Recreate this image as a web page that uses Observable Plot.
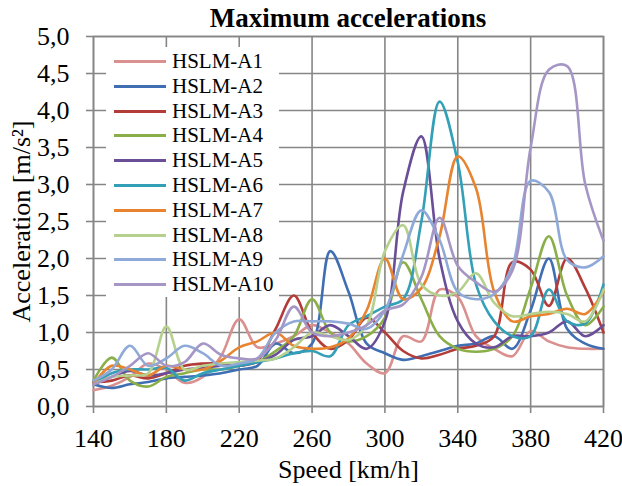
<!DOCTYPE html>
<html>
<head>
<meta charset="utf-8">
<script src="https://cdn.jsdelivr.net/npm/d3@7"></script>
<script src="https://cdn.jsdelivr.net/npm/@observablehq/plot@0.6"></script>
<style>
  html, body { margin: 0; padding: 0; background: #fff; }
  #wrap { position: relative; width: 622px; height: 486px; font-family: "Liberation Serif", serif; }
  #title { position: absolute; left: 93px; top: 2px; width: 510px; text-align: center; font-weight: bold; font-size: 27px; line-height: 32px; color: #000; z-index: 2; font-family: "Liberation Serif", serif; }
  #legend { position: absolute; left: 106px; top: 47px; width: 173px; height: 250px; background: #fff; z-index: 2; }
  .row { position: absolute; left: 0; height: 25px; width: 173px; }
  .sw { position: absolute; left: 8px; top: 11px; width: 52px; height: 3px; }
  .lb { position: absolute; left: 66px; top: 0; font-size: 21px; line-height: 25px; color: #000; white-space: nowrap; font-family: "Liberation Serif", serif !important; }
  svg { position: absolute; left: 0; top: 0; }
  svg text { font-family: "Liberation Serif", serif !important; }
</style>
</head>
<body>
<div id="wrap">
  <div id="title">Maximum accelerations</div>
  <div id="legend"></div>
</div>
<script>
const speeds = [140,150,160,170,180,190,200,210,220,230,240,250,260,270,280,290,300,310,320,330,340,350,360,370,380,390,400,410,420];
const seriesNames = ["HSLM-A1","HSLM-A2","HSLM-A3","HSLM-A4","HSLM-A5","HSLM-A6","HSLM-A7","HSLM-A8","HSLM-A9","HSLM-A10"];
const seriesColors = ["#D9908E","#3F6FB2","#B33C39","#8AAE48","#6A4E97","#33A0B8","#E8842F","#B6D08D","#8FAAD9","#A596C6"];
const A1  = [0.22,0.28,0.40,0.58,0.50,0.32,0.40,0.68,1.18,0.80,0.85,0.95,1.10,1.00,0.85,0.58,0.45,0.95,0.88,1.58,1.48,0.95,0.78,0.68,1.02,0.88,0.80,0.78,0.78];
const A2  = [0.30,0.25,0.30,0.33,0.38,0.40,0.42,0.45,0.50,0.55,0.85,0.72,0.85,2.10,1.55,0.85,0.72,0.63,0.68,0.75,0.82,0.85,0.95,0.78,1.30,2.00,1.05,0.85,0.78];
const A3  = [0.33,0.35,0.42,0.38,0.45,0.55,0.58,0.58,0.55,0.62,1.05,1.50,1.00,0.78,0.90,1.20,1.00,0.75,0.65,0.70,0.78,0.82,0.95,1.95,1.85,1.36,2.00,1.60,1.00];
const A4  = [0.35,0.66,0.35,0.27,0.40,0.45,0.50,0.50,0.55,0.60,0.75,0.95,1.45,1.00,0.88,0.95,1.20,1.95,1.45,0.95,0.78,0.74,0.78,0.95,1.60,2.30,1.50,1.10,1.35];
const A5  = [0.30,0.40,0.48,0.42,0.45,0.50,0.52,0.55,0.55,0.60,0.70,0.90,0.95,1.10,0.95,0.78,1.15,2.90,3.65,2.00,1.15,0.85,0.80,0.95,0.95,1.00,1.15,0.95,1.10];
const A6  = [0.30,0.45,0.50,0.50,0.52,0.35,0.45,0.50,0.55,0.60,0.65,0.72,0.75,0.68,1.10,1.22,1.35,1.45,2.50,4.12,3.30,1.65,1.15,0.95,0.95,1.58,1.15,1.12,1.65];
const A7  = [0.30,0.55,0.50,0.42,0.55,0.50,0.50,0.62,0.80,0.88,1.00,0.82,0.78,0.80,0.92,1.30,2.00,1.45,1.60,2.30,3.38,2.95,1.55,1.15,1.22,1.25,1.32,1.25,1.55];
const A8  = [0.30,0.40,0.42,0.45,1.08,0.50,0.55,0.58,0.60,0.62,0.65,0.80,1.00,0.95,0.90,1.10,2.10,2.45,1.65,1.50,1.55,1.80,1.40,1.22,1.25,1.28,1.25,1.15,1.58];
const A9  = [0.35,0.50,0.82,0.55,0.65,0.82,0.72,0.55,0.58,0.65,1.00,1.15,1.15,1.15,1.12,1.05,1.30,2.05,2.65,2.25,1.55,1.45,1.52,1.90,3.05,2.90,1.98,1.88,2.03];
const A10 = [0.30,0.40,0.55,0.72,0.55,0.60,0.85,0.70,0.65,0.65,0.90,1.35,1.00,0.95,1.00,1.10,1.30,1.38,1.75,2.55,1.90,1.68,1.55,1.84,3.50,4.55,4.60,3.00,2.24];
const xTicks = [140,180,220,260,300,340,380,420];
const yTicks = [0,0.5,1,1.5,2,2.5,3,3.5,4,4.5,5];

const allSeries = [A1,A2,A3,A4,A5,A6,A7,A8,A9,A10];
const data = [];
allSeries.forEach((vals, i) => {
  vals.forEach((v, j) => data.push({series: seriesNames[i], speed: speeds[j], acc: v}));
});

const fmt = d => d.toFixed(1).replace(".", ",");
const grid = "#868686";
const serif = "Liberation Serif";

const chart = Plot.plot({
  width: 622,
  height: 486,
  marginTop: 36,
  marginBottom: 80,
  marginLeft: 93,
  marginRight: 19,
  style: {fontFamily: serif, color: "#000", background: "transparent"},
  x: {domain: [140, 420]},
  y: {domain: [0, 5]},
  color: {domain: seriesNames, range: seriesColors},
  marks: [
    Plot.gridX(xTicks, {stroke: grid, strokeOpacity: 1, strokeWidth: 1.6}),
    Plot.gridY(yTicks, {stroke: grid, strokeOpacity: 1, strokeWidth: 1.6}),
    Plot.frame({stroke: grid, strokeWidth: 1.6}),
    Plot.axisX({ticks: xTicks, tickSize: 7, tickPadding: 15, fontSize: 26, fontFamily: serif, stroke: grid, strokeWidth: 1.6,
      tickFormat: d => String(d), label: "Speed [km/h]", labelAnchor: "center", labelArrow: "none", labelOffset: 71}),
    Plot.axisY({ticks: yTicks, tickSize: 7, tickPadding: 17, fontSize: 26, fontFamily: serif, stroke: grid, strokeWidth: 1.6,
      tickFormat: fmt, label: "Acceleration [m/s²]", labelAnchor: "center", labelArrow: "none", labelOffset: 82}),
    Plot.line(data, {x: "speed", y: "acc", z: "series", stroke: "series", strokeWidth: 2.6, curve: "catmull-rom"})
  ]
});

const wrap = document.getElementById("wrap");
wrap.insertBefore(chart, wrap.firstChild);

const legend = document.getElementById("legend");
seriesNames.forEach((name, i) => {
  const row = document.createElement("div");
  row.className = "row";
  row.style.top = (2 + i * 24.8) + "px";
  const sw = document.createElement("div");
  sw.className = "sw";
  sw.style.background = seriesColors[i];
  const lb = document.createElement("div");
  lb.className = "lb";
  lb.textContent = name;
  row.appendChild(sw);
  row.appendChild(lb);
  legend.appendChild(row);
});
</script>
</body>
</html>
